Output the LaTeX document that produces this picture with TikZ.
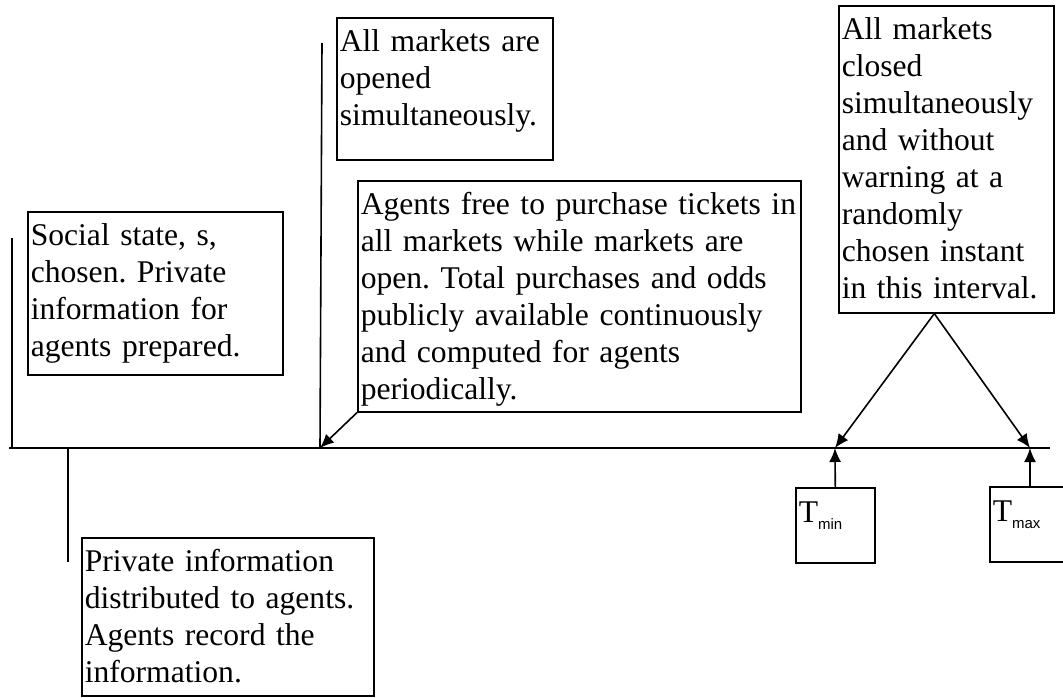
\documentclass[tikz,border=0pt]{standalone}
\usepackage{fontspec}
\setmainfont{Liberation Serif}
\setsansfont{Liberation Sans}
\usetikzlibrary{arrows.meta}
\newcommand{\sub}[1]{{\sffamily\fontsize{15}{15}\selectfont\raisebox{-7pt}{#1}}}
\frenchspacing

\begin{document}
\begin{tikzpicture}[x=1pt, y=-1pt, line width=1.6pt,
  tbox/.style={draw, anchor=north west, inner xsep=3pt, inner ysep=0pt, align=left,
    text height=34pt, font=\fontsize{31.6}{37}\selectfont},
  tip/.style={-{Latex[length=14pt, width=12pt]}}]
\useasboundingbox (0,0) rectangle (1063,698);

% Event boxes
\node[tbox, text width=249pt, text depth=129pt] (social) at (27,211) {Social state, s,\\chosen. Private\\information for\\agents prepared.};
\node[tbox, text width=210pt, text depth=108pt] (opened) at (336,17) {All markets are\\opened\\simultaneously.};
\node[tbox, text width=437pt, text depth=197pt] (trade) at (357,180) {Agents free to purchase tickets in\\all markets while markets are\\open. Total purchases and odds\\publicly available continuously\\and computed for agents\\periodically.};
\node[tbox, text width=209pt, text depth=273pt] (closed) at (838,5) {All markets\\closed\\simultaneously\\and without\\warning at a\\randomly\\chosen instant\\in this interval.};
\node[tbox, text width=286pt, text depth=124pt] (private) at (81,537) {Private information\\distributed to agents.\\Agents record the\\information.};
\node[tbox, text width=73pt, text height=35pt, text depth=40pt] (tmin) at (795,487) {T\sub{min}};
\node[tbox, text width=76pt, text height=35pt, text depth=40pt] (tmax) at (989,486) {T\sub{max}};

% Time line
\coordinate (start) at (9,448);
\coordinate (stop) at (1050,448);
\coordinate (open) at (320,448);
\coordinate (early) at (835,448);
\coordinate (late) at (1030,448);
\draw (start) -- (stop);
\draw (12,238) -- (12,448);
\draw (68,448) -- (68,562);
\draw (322,43) -- (open);

% Arrows
\draw[tip] (trade.south west) -- (open);
\draw[tip] ([xshift=-12pt]closed.south) -- (early);
\draw[tip] ([xshift=-12pt]closed.south) -- (late);
\draw[tip] (tmin.north) -- (early);
\draw[tip] (tmin.north -| late) -- (late);
\end{tikzpicture}
\end{document}
